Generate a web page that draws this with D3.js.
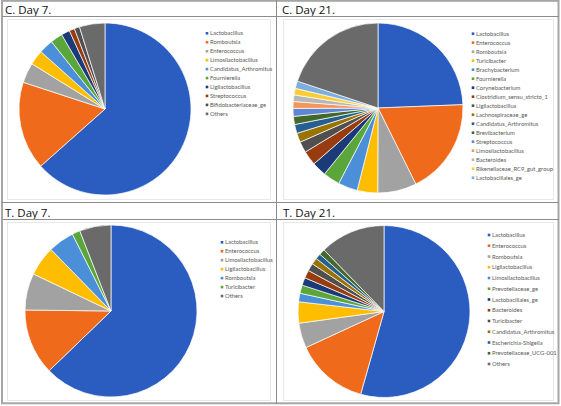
<!DOCTYPE html>
<html>
<head>
<meta charset="utf-8">
<script src="https://cdn.jsdelivr.net/npm/d3@7"></script>
<style>
  body { margin: 0; background: #fff; }
  svg { display: block; }
</style>
</head>
<body>
<script>
// genus shares (%) per group
const c7Names = ["Lactobacillus", "Romboutsia", "Enterococcus", "Limosilactobacillus", "Candidatus_Arthromitus", "Fournierella", "Ligilactobacillus", "Streptococcus", "Bifidobacteriaceae_ge", "Others"]
const c7Values = [63.5, 16.6, 3.8, 2.8, 2.7, 2.3, 1.6, 1.0, 1.0, 4.8]

const c21Names = ["Lactobacillus", "Enterococcus", "Romboutsia", "Turicibacter", "Brachybacterium", "Fournierella", "Corynebacterium", "Clostridium_sensu_stricto_1", "Ligilactobacillus", "Lachnospiraceae_ge", "Candidatus_Arthromitus", "Brevibacterium", "Streptococcus", "Limosilactobacillus", "Bacteroides", "Rikenellaceae_RC9_gut_group", "Lactobacillales_ge", "Others"]
const c21Values = [24.4, 18.3, 7.4, 3.9, 3.7, 3.2, 2.75, 2.75, 2.1, 1.75, 1.7, 1.55, 1.5, 1.3, 1.25, 1.25, 1.4, 19.9]

const t7Names = ["Lactobacillus", "Enterococcus", "Limosilactobacillus", "Ligilactobacillus", "Romboutsia", "Turicibacter", "Others"]
const t7Values = [62.75, 12.4, 6.9, 5.6, 4.9, 1.5, 5.9]

const t21Names = ["Lactobacillus", "Enterococcus", "Romboutsia", "Ligilactobacillus", "Limosilactobacillus", "Prevotellaceae_ge", "Lactobacillales_ge", "Bacteroides", "Turicibacter", "Candidatus_Arthromitus", "Escherichia-Shigella", "Prevotellaceae_UCG-001", "Others"]
const t21Values = [54.4, 13.75, 4.7, 4.0, 1.6, 1.55, 1.45, 1.5, 1.45, 1.2, 1.05, 1.1, 12.3]

const palette = ["#2b5cbf", "#f06a1c", "#a2a2a2", "#ffbd00", "#4a8fd8", "#5ba63b", "#1b3a78", "#983b0f", "#4f4f4f", "#997300", "#255e91", "#43682b", "#5f86d4", "#f1975a", "#b7b7b7", "#ffcd33", "#7cafdd"]
const othersColor = "#6a6a6a"

const W = 561, H = 406
const svg = d3.select("body").append("svg").attr("width", W).attr("height", H)

// the C. Day 21 legend is cut off before "Others" in the original
let panels = [
  {title: "C. Day 7.", names: c7Names, values: c7Values, tx: 5, ty: 13.5, cx: 105, cy: 109, r: 86, lx: 207, ly: 33.3, ls: 8.95, shown: 10, box: [7, 19, 270, 199]},
  {title: "C. Day 21.", names: c21Names, values: c21Values, tx: 282, ty: 13.5, cx: 378, cy: 108, r: 85, lx: 473, ly: 33.7, ls: 9, shown: 17, box: [283, 19, 553, 199]},
  {title: "T. Day 7.", names: t7Names, values: t7Values, tx: 5, ty: 216.5, cx: 111, cy: 311, r: 86, lx: 222, ly: 242.3, ls: 8.95, shown: 7, box: [7, 222, 270, 400]},
  {title: "T. Day 21.", names: t21Names, values: t21Values, tx: 283, ty: 216.5, cx: 384, cy: 311.5, r: 86, lx: 489, ly: 235, ls: 10.75, shown: 13, box: [283, 222, 553, 400]}
]

let pie = d3.pie().sort(null).value(d=>d.v)

panels.forEach(p=>{
  let color = d3.scaleOrdinal()
    .domain(p.names)
    .range(p.names.map((n, i)=> n == "Others" ? othersColor : palette[i]))

  // faint plot-area box
  svg.append("rect")
    .attr("x", p.box[0] + 0.5).attr("y", p.box[1] + 0.5)
    .attr("width", p.box[2] - p.box[0]).attr("height", p.box[3] - p.box[1])
    .attr("fill", "none").attr("stroke", "#e3e3e3").attr("stroke-width", 0.8)

  svg.append("text")
    .attr("x", p.tx).attr("y", p.ty)
    .attr("font-family", "'Open Sans', Lato, sans-serif")
    .attr("font-size", 11.5)
    .attr("fill", "#111")
    .text(p.title)

  let data = p.names.map((n, i)=>({n: n, v: p.values[i]}))
  let arc = d3.arc().innerRadius(0).outerRadius(p.r)
  let g = svg.append("g").attr("transform", `translate(${p.cx},${p.cy})`)
  g.selectAll("path")
    .data(pie(data))
    .enter()
    .append("path")
    .attr("d", arc)
    .attr("fill", d=>color(d.data.n))
    .attr("stroke", "#fff")
    .attr("stroke-width", 0.7)

  let legend = svg.append("g").attr("transform", `translate(${p.lx},${p.ly})`)
  let item = legend.selectAll("g")
    .data(p.names.slice(0, p.shown))
    .enter()
    .append("g")
    .attr("transform", (d, i)=>`translate(0,${i*p.ls})`)
  item.append("rect")
    .attr("x", -1.3).attr("y", -1.3)
    .attr("width", 2.6).attr("height", 2.6)
    .attr("fill", d=>color(d))
  item.append("text")
    .attr("x", 3).attr("y", 2)
    .attr("font-family", "Lato, 'Open Sans', sans-serif")
    .attr("font-size", 5.85)
    .attr("fill", "#595959")
    .text(d=>d)
})

// grid frame
let frame = svg.append("g").attr("stroke", "#8c8c8c").attr("fill", "none")
frame.append("rect").attr("x", 2).attr("y", 0.8).attr("width", 556.5).attr("height", 402.5)
  .attr("stroke", "#a6a6a6").attr("stroke-width", 2)
frame.append("line").attr("x1", 276.5).attr("x2", 276.5).attr("y1", 0).attr("y2", 404)
frame.append("line").attr("x1", 2).attr("x2", 559).attr("y1", 202.5).attr("y2", 202.5)
frame.append("line").attr("x1", 2).attr("x2", 559).attr("y1", 16.5).attr("y2", 16.5)
frame.append("line").attr("x1", 2).attr("x2", 559).attr("y1", 219.5).attr("y2", 219.5)
</script>
</body>
</html>
